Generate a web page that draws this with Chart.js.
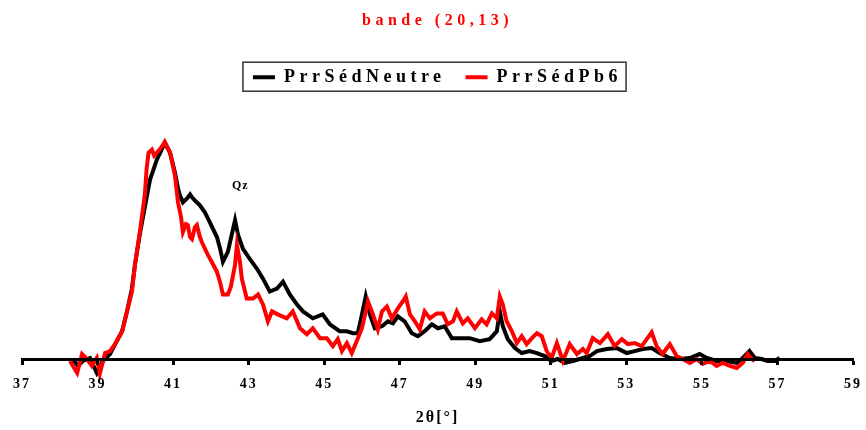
<!DOCTYPE html>
<html>
<head>
<meta charset="utf-8">
<title>bande (20,13)</title>
<script src="https://cdn.jsdelivr.net/npm/chart.js@4.4.1/dist/chart.umd.min.js"></script>
<style>
  html, body { margin: 0; padding: 0; background: #fff; }
</style>
</head>
<body>
<canvas id="chart" width="866" height="430"></canvas>
<script>
// diffractogram, band (20,13) - intensity in arbitrary units (0 = baseline)
const seriesNames = ['PrrSédNeutre', 'PrrSédPb6'];

const neutreTheta = [38.35, 38.48, 38.61, 38.80, 38.98, 39.14, 39.33, 39.41, 39.65, 39.78,
  39.91, 39.99, 40.12, 40.25, 40.39, 40.57, 40.78, 40.92, 41.05, 41.13,
  41.18, 41.26, 41.37, 41.45, 41.50, 41.60, 41.71, 41.84, 41.97, 42.16,
  42.24, 42.32, 42.45, 42.58, 42.64, 42.72, 42.85, 43.03, 43.22, 43.38,
  43.56, 43.75, 43.91, 44.09, 44.28, 44.44, 44.70, 44.96, 45.15, 45.41,
  45.60, 45.76, 45.89, 46.00, 46.10, 46.21, 46.34, 46.53, 46.69, 46.82,
  46.95, 47.13, 47.32, 47.48, 47.66, 47.85, 48.01, 48.19, 48.38, 48.59,
  48.85, 49.12, 49.38, 49.57, 49.65, 49.73, 49.86, 50.05, 50.23, 50.44,
  50.63, 50.84, 51.02, 51.18, 51.37, 51.58, 51.85, 52.03, 52.22, 52.48,
  52.75, 53.01, 53.22, 53.43, 53.67, 53.88, 54.15, 54.41, 54.68, 54.94,
  55.13, 55.39, 55.66, 55.92, 56.08, 56.26, 56.40, 56.58, 56.74, 56.93, 57.06];
const neutreI = [0, -7, -2, 1, -14, -2, 5, 11, 28, 48,
  71, 95, 126, 153, 181, 201, 218, 208, 188, 172,
  165, 158, 162, 166, 163, 159, 155, 148, 138, 123,
  112, 98, 108, 130, 140, 125, 111, 101, 91, 81,
  68, 71, 78, 65, 55, 48, 41, 45, 35, 28,
  28, 26, 26, 45, 63, 45, 31, 33, 38, 36,
  43, 38, 26, 23, 28, 35, 31, 33, 21, 21,
  21, 18, 20, 28, 48, 33, 20, 11, 6, 8,
  6, 3, -2, 0, -4, -2, 1, 3, 8, 10,
  11, 6, 8, 10, 11, 6, 1, 0, 1, 5,
  1, -2, -2, -4, 1, 8, 1, 0, -2, -2, 1];

const pb6Theta = [38.27, 38.46, 38.59, 38.72, 38.85, 38.98, 39.06, 39.20, 39.33, 39.46,
  39.65, 39.78, 39.91, 39.99, 40.12, 40.25, 40.30, 40.35, 40.44, 40.50,
  40.57, 40.68, 40.78, 40.92, 41.05, 41.13, 41.21, 41.26, 41.34, 41.39,
  41.45, 41.50, 41.58, 41.63, 41.71, 41.76, 41.92, 42.05, 42.16, 42.24,
  42.32, 42.45, 42.53, 42.64, 42.69, 42.77, 42.82, 42.95, 43.11, 43.25,
  43.38, 43.51, 43.62, 43.77, 44.01, 44.17, 44.36, 44.54, 44.70, 44.89,
  45.07, 45.23, 45.36, 45.47, 45.60, 45.73, 45.86, 46.00, 46.16, 46.29,
  46.42, 46.53, 46.66, 46.79, 46.95, 47.08, 47.16, 47.27, 47.40, 47.53,
  47.66, 47.80, 47.98, 48.14, 48.27, 48.41, 48.51, 48.67, 48.80, 48.99,
  49.17, 49.30, 49.44, 49.57, 49.65, 49.73, 49.83, 49.97, 50.10, 50.23,
  50.36, 50.50, 50.63, 50.76, 50.89, 51.02, 51.16, 51.32, 51.50, 51.69,
  51.85, 51.95, 52.11, 52.30, 52.51, 52.69, 52.88, 53.04, 53.22, 53.41,
  53.54, 53.67, 53.80, 53.96, 54.15, 54.33, 54.49, 54.68, 54.86, 55.02,
  55.21, 55.39, 55.55, 55.74, 55.92, 56.08, 56.21, 56.32, 56.40];
const pb6I = [-2, -14, 5, 0, -7, 1, -15, 6, 8, 15,
  28, 48, 68, 95, 128, 165, 192, 208, 211, 205,
  208, 213, 219, 208, 185, 158, 143, 128, 136, 135,
  123, 121, 133, 135, 123, 118, 105, 96, 88, 78,
  65, 65, 73, 95, 115, 98, 81, 61, 61, 65,
  55, 38, 48, 45, 41, 48, 31, 25, 31, 21,
  21, 13, 20, 8, 16, 6, 18, 31, 58, 45,
  30, 48, 53, 41, 51, 58, 63, 45, 38, 30,
  48, 41, 46, 46, 35, 38, 48, 36, 41, 31,
  40, 35, 46, 41, 63, 55, 38, 28, 16, 23,
  15, 21, 26, 23, 8, 1, 16, -2, 15, 5,
  10, 6, 21, 16, 25, 13, 20, 15, 16, 13,
  20, 27, 13, 5, 15, 3, 0, -4, 0, -5,
  -2, -7, -4, -7, -9, -4, 5, 0, -2];

const thetaTicks = [37, 39, 41, 43, 45, 47, 49, 51, 53, 55, 57, 59];
const intensityRange = [0, 265];

// quartz reflection label
const qzLabel = 'Qz';
const qzAt = [42.78, 175];

function toPoints(xs, ys) {
    return xs.map((x, i) => ({ x: x, y: ys[i] }));
}

const serif = 'Liberation Serif, Times New Roman, serif';

const decorPlugin = {
    id: 'decor',
    beforeLayout(chart) {
        chart.ctx.letterSpacing = '4.5px';
    },
    beforeDraw(chart) {
        chart.ctx.letterSpacing = '4.5px';
    },
    afterDatasetsDraw(chart) {
        chart.ctx.letterSpacing = '2px';
    },
    afterDraw(chart) {
        const ctx = chart.ctx;
        // frame round the legend
        const hb = chart.legend.legendHitBoxes;
        if (hb && hb.length) {
            const last = hb[hb.length - 1];
            const l = hb[0].left - 10;
            const r = last.left + last.width + 4;
            const t = hb[0].top - 6;
            const b = hb[0].top + hb[0].height + 5;
            ctx.save();
            ctx.strokeStyle = '#333';
            ctx.lineWidth = 1.5;
            ctx.strokeRect(l, t, r - l, b - t);
            ctx.restore();
        }
        // Qz label
        const x = chart.scales.x.getPixelForValue(qzAt[0]);
        const y = chart.scales.y.getPixelForValue(qzAt[1]);
        ctx.save();
        ctx.letterSpacing = '1px';
        ctx.font = 'bold 12px ' + serif;
        ctx.fillStyle = '#000';
        ctx.textAlign = 'center';
        ctx.textBaseline = 'middle';
        ctx.fillText(qzLabel, x, y);
        ctx.restore();
    }
};

const ctx = document.getElementById('chart').getContext('2d');
const chart = new Chart(ctx, {
    type: 'line',
    data: {
        datasets: [
            {
                label: seriesNames[0],
                data: toPoints(neutreTheta, neutreI),
                borderColor: '#000000',
                backgroundColor: '#000000',
                borderWidth: 4,
                order: 1
            },
            {
                label: seriesNames[1],
                data: toPoints(pb6Theta, pb6I),
                borderColor: '#ff0000',
                backgroundColor: '#ff0000',
                borderWidth: 4,
                order: 0
            }
        ]
    },
    options: {
        responsive: false,
        animation: false,
        devicePixelRatio: 1,
        layout: { padding: { left: 22, right: 13, top: 0, bottom: 3 } },
        elements: {
            point: { radius: 0 },
            line: { tension: 0 }
        },
        datasets: { line: { clip: false } },
        scales: {
            x: {
                type: 'linear',
                min: thetaTicks[0],
                max: thetaTicks[thetaTicks.length - 1],
                afterBuildTicks: scale => {
                    scale.ticks = thetaTicks.map(v => ({ value: v }));
                },
                afterFit: scale => {
                    // end labels may overhang the plot edges
                    scale.paddingLeft = 0;
                    scale.paddingRight = 0;
                },
                ticks: {
                    color: '#000',
                    font: { family: serif, size: 14, weight: 'bold' },
                    padding: 11,
                    maxRotation: 0,
                    autoSkip: false,
                    z: 1
                },
                grid: {
                    drawOnChartArea: false,
                    drawTicks: true,
                    tickLength: 6,
                    tickWidth: 3,
                    color: '#000',
                    z: 1
                },
                border: { display: true, color: '#000', width: 3, z: 1 },
                title: {
                    display: true,
                    text: '2θ[°]',
                    color: '#000',
                    font: { family: serif, size: 16, weight: 'bold' },
                    padding: { top: 4, bottom: 0 }
                }
            },
            y: {
                display: false,
                min: intensityRange[0],
                max: intensityRange[1]
            }
        },
        plugins: {
            title: {
                display: true,
                text: 'bande (20,13)',
                color: '#ff0000',
                font: { family: serif, size: 16, weight: 'bold' },
                padding: { top: 11, bottom: 18 }
            },
            legend: {
                display: true,
                position: 'top',
                labels: {
                    usePointStyle: true,
                    pointStyle: 'line',
                    pointStyleWidth: 22,
                    color: '#000',
                    font: { family: serif, size: 18, weight: 'bold' },
                    padding: 20,
                    sort: (a, b) => a.datasetIndex - b.datasetIndex
                }
            },
            tooltip: { enabled: false }
        }
    },
    plugins: [decorPlugin]
});
</script>
</body>
</html>
